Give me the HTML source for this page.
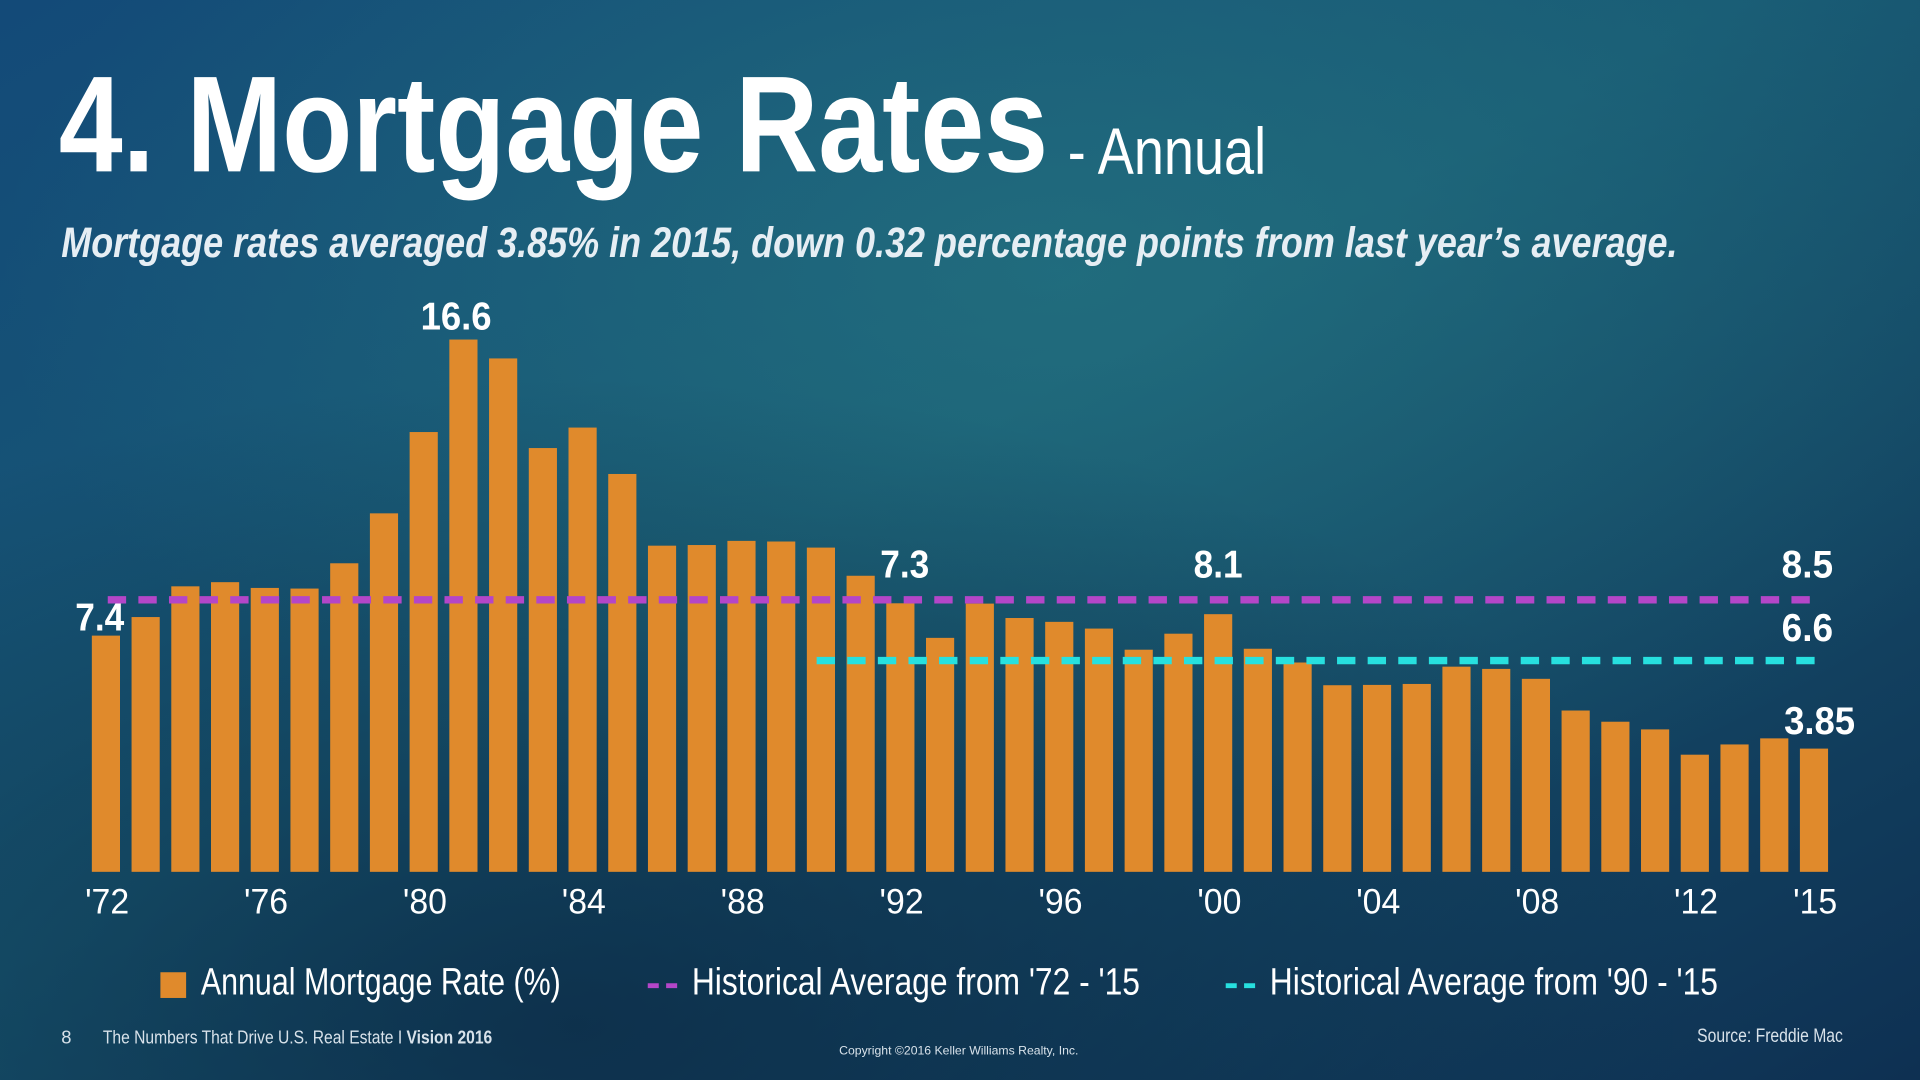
<!DOCTYPE html>
<html><head><meta charset="utf-8"><title>Mortgage Rates - Annual</title>
<style>html,body{margin:0;padding:0;width:1920px;height:1080px;overflow:hidden;background:#123d5e}svg{display:block}</style></head>
<body>
<svg id="chart" width="1920" height="1080" viewBox="0 0 1568 882" preserveAspectRatio="none" xmlns="http://www.w3.org/2000/svg" font-family="'Liberation Sans Narrow','Liberation Sans',sans-serif">
<defs>
<linearGradient id="bg" x1="0" y1="0" x2="1" y2="1">
<stop offset="0" stop-color="#134a78"/><stop offset="0.45" stop-color="#185a74"/><stop offset="1" stop-color="#0e3052"/>
</linearGradient>
<radialGradient id="glow" cx="0.55" cy="0.25" r="0.55"><stop offset="0" stop-color="#2a7f86" stop-opacity="0.5"/><stop offset="1" stop-color="#2a7f86" stop-opacity="0"/></radialGradient>
<radialGradient id="dark" cx="0.3" cy="0.95" r="0.6"><stop offset="0" stop-color="#0a2540" stop-opacity="0.7"/><stop offset="1" stop-color="#0a2540" stop-opacity="0"/></radialGradient>
</defs>
<rect width="1568" height="882" fill="url(#bg)"/>
<rect width="1568" height="882" fill="url(#glow)"/>
<rect width="1568" height="882" fill="url(#dark)"/>
<text x="48" y="140" font-size="112" font-weight="bold" fill="#fff" textLength="808" lengthAdjust="spacingAndGlyphs">4. Mortgage Rates</text>
<text x="872" y="142" font-size="54" fill="#fff" textLength="162" lengthAdjust="spacingAndGlyphs">- Annual</text>
<text x="50" y="210" font-size="35" font-weight="bold" font-style="italic" fill="#e6eef4" textLength="1320" lengthAdjust="spacingAndGlyphs">Mortgage rates averaged 3.85% in 2015, down 0.32 percentage points from last year’s average.</text>
<g id="bars"></g>
<g id="lines"></g>
<g id="labels"></g>
<g id="ticks"></g>
<g>
<rect x="131" y="794" width="21" height="21" fill="#e08a2c"/>
<text x="164" y="812" font-size="31" fill="#fff" textLength="294" lengthAdjust="spacingAndGlyphs">Annual Mortgage Rate (%)</text>
<line x1="529" y1="805" x2="555" y2="805" stroke="#b446c8" stroke-width="4" stroke-dasharray="9,6"/>
<text x="565" y="812" font-size="31" fill="#fff" textLength="366" lengthAdjust="spacingAndGlyphs">Historical Average from '72 - '15</text>
<line x1="1001" y1="805" x2="1027" y2="805" stroke="#27e0df" stroke-width="4" stroke-dasharray="9,6"/>
<text x="1037" y="812" font-size="31" fill="#fff" textLength="366" lengthAdjust="spacingAndGlyphs">Historical Average from '90 - '15</text>
</g>
<text x="50" y="852" font-size="15" fill="#d8e2ea">8</text>
<text x="84" y="852" font-size="15" fill="#d8e2ea" textLength="318" lengthAdjust="spacingAndGlyphs">The Numbers That Drive U.S. Real Estate I <tspan font-weight="bold">Vision 2016</tspan></text>
<text x="783" y="861" font-size="10" fill="#d8e2ea" text-anchor="middle">Copyright ©2016 Keller Williams Realty, Inc.</text>
<text x="1505" y="851" font-size="16" fill="#d8e2ea" text-anchor="end" textLength="119" lengthAdjust="spacingAndGlyphs">Source: Freddie Mac</text>
</svg>
<script>
const years = [1972,1973,1974,1975,1976,1977,1978,1979,1980,1981,1982,1983,1984,1985,1986,1987,1988,1989,1990,1991,1992,1993,1994,1995,1996,1997,1998,1999,2000,2001,2002,2003,2004,2005,2006,2007,2008,2009,2010,2011,2012,2013,2014,2015];
const rates = [7.38,7.96,8.92,9.05,8.87,8.85,9.64,11.20,13.74,16.63,16.04,13.24,13.88,12.43,10.19,10.21,10.34,10.32,10.13,9.25,8.39,7.31,8.38,7.93,7.81,7.60,6.94,7.44,8.05,6.97,6.54,5.83,5.84,5.87,6.41,6.34,6.03,5.04,4.69,4.45,3.66,3.98,4.17,3.85];
const tickYears = [1972,1976,1980,1984,1988,1992,1996,2000,2004,2008,2012,2015];
const tickLabels = ["'72","'76","'80","'84","'88","'92","'96","'00","'04","'08","'12","'15"];
const avgAll = 8.5;
const avg90 = 6.6;
const callouts = [[1972,"7.4"],[1981,"16.6"],[1991,"7.3"],[2000,"8.1"],[2015,"3.85"]];

const NS="http://www.w3.org/2000/svg";
const base=712, unit=26.14, x0=75, step=32.44, bw=23;
const xL=y=>x0+(y-1972)*step;
const xC=y=>xL(y)+bw/2;
const yS=v=>base-v*unit;
function mk(t,a,p){const e=document.createElementNS(NS,t);for(const k in a)e.setAttribute(k,a[k]);p.appendChild(e);return e;}
const gb=document.getElementById('bars');
years.forEach((y,i)=>{
  const r=mk('rect',{x:xL(y),y:yS(rates[i]),width:bw,height:rates[i]*unit,fill:'#e08a2c'},gb);
  
  
});
const gl=document.getElementById('lines');
const l1=mk('line',{x1:88,x2:1482,y1:yS(avgAll),y2:yS(avgAll),stroke:'#b446c8','stroke-width':6,'stroke-dasharray':'15,10'},gl);


const l2=mk('line',{x1:xL(1990)+8,x2:1482,y1:yS(avg90),y2:yS(avg90),stroke:'#27e0df','stroke-width':6,'stroke-dasharray':'15,10'},gl);


const lab=document.getElementById('labels');
function label(x,y,txt,anchor,name,w){
  const t=mk('text',{x:x,y:y,'font-size':32,'font-weight':'bold',fill:'#fff','text-anchor':anchor,textLength:w,lengthAdjust:'spacingAndGlyphs'},lab);
  t.textContent=txt;
  
  
}
callouts.forEach(c=>{
  const i=years.indexOf(c[0]);const v=rates[i];
  if(c[0]===1972) label(xC(c[0])-5,yS(v)-4,c[1],'middle','value-label-'+c[0],40);
  else if(c[0]===2015) label(1515,yS(v)-12,c[1],'end','value-label-'+c[0],58);
  else if(c[0]===1981) label(xC(c[0])-6,yS(v)-8,c[1],'middle','value-label-'+c[0],58);
  else label(xC(c[0])+(c[0]===1991?36:0),yS(avgAll)-18,c[1],'middle','value-label-'+c[0],40);
});
label(1497,yS(avgAll)-18,String(avgAll),'end','average-label-72-15',42);
label(1497,yS(avg90)-16,String(avg90),'end','average-label-90-15',42);
const gt=document.getElementById('ticks');
tickYears.forEach((y,i)=>{
  const t=mk('text',{x:xC(y)+1,y:746,'font-size':29,fill:'#fff','text-anchor':'middle',textLength:36,lengthAdjust:'spacingAndGlyphs'},gt);
  t.textContent=tickLabels[i];
  
  
});
</script>
</body></html>
